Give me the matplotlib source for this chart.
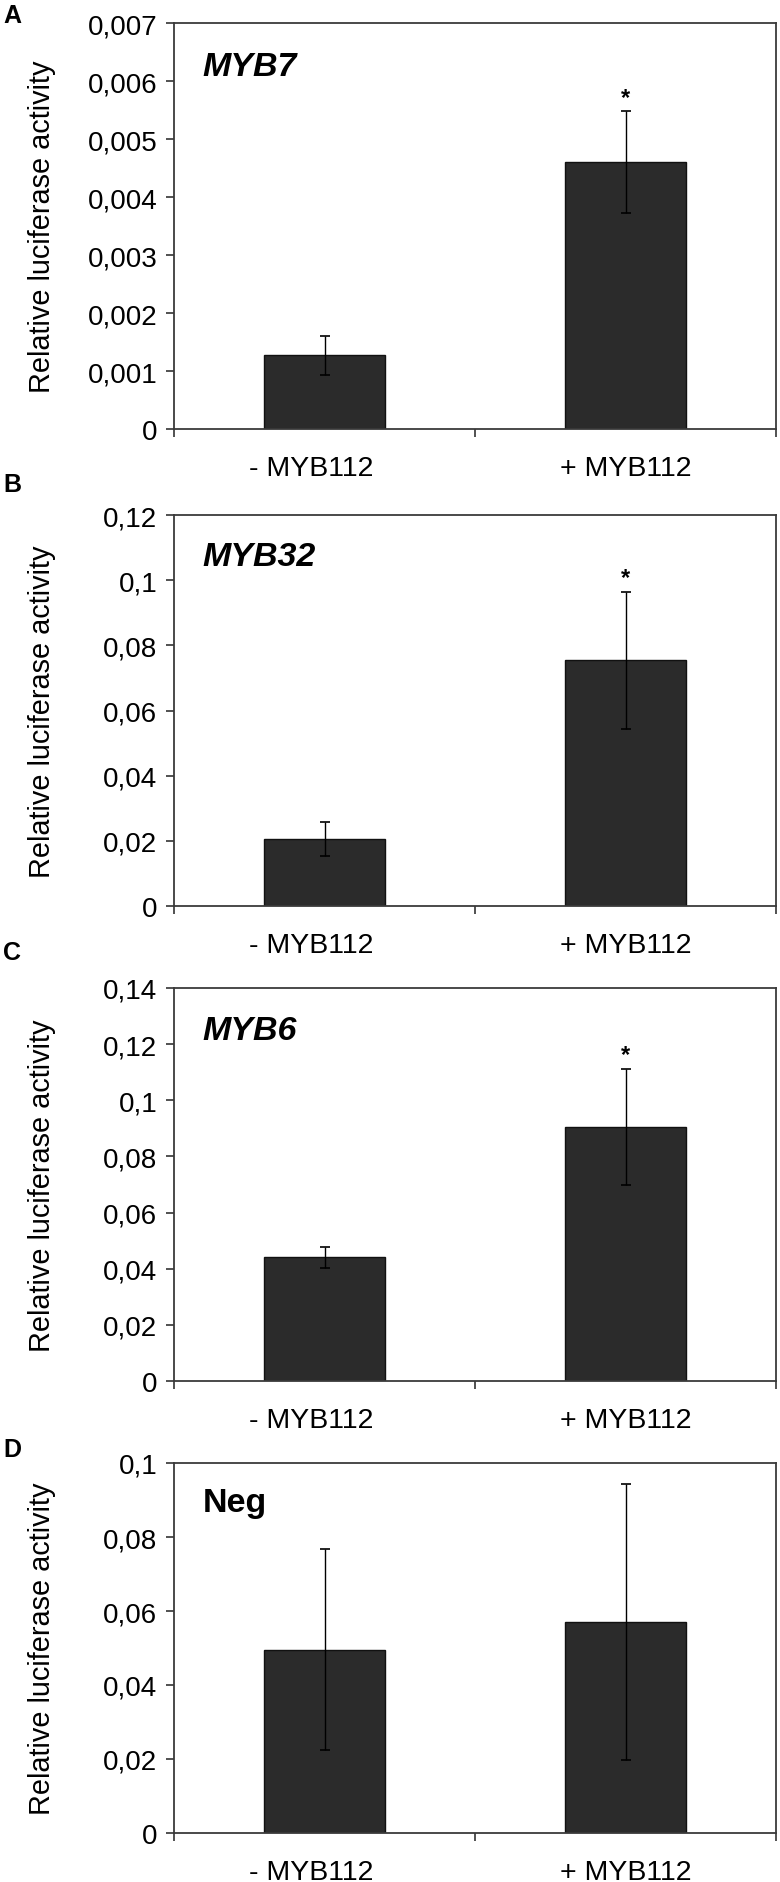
import numpy as np
import matplotlib
matplotlib.use('Agg')
import matplotlib.pyplot as plt
import matplotlib.transforms as mtransforms
from matplotlib.ticker import FuncFormatter

plt.rcParams['font.family'] = ['Liberation Sans', 'DejaVu Sans']

# data
groups = ['- MYB112', '+ MYB112']
panel_letters = ['A', 'B', 'C', 'D']
genes = ['MYB7', 'MYB32', 'MYB6', 'Neg']
means_a = [0.00127, 0.0046]
errs_a = [0.00034, 0.00088]
means_b = [0.0205, 0.0754]
errs_b = [0.0052, 0.021]
means_c = [0.044, 0.0906]
errs_c = [0.0037, 0.0207]
means_d = [0.0495, 0.057]
errs_d = [0.0272, 0.0372]
signif = [[False, True], [False, True], [False, True], [False, False]]
ymax = [0.007, 0.12, 0.14, 0.1]
ystep = [0.001, 0.02, 0.02, 0.02]

means = [means_a, means_b, means_c, means_d]
errs = [errs_a, errs_b, errs_c, errs_d]

W, H = 780, 1883
fig = plt.figure(figsize=(W / 100, H / 100), dpi=100)

# axes boxes in pixels: (top, bottom)
boxes = [(24, 430), (516, 907), (989, 1382), (1464, 1834)]
letter_y = [16, 485, 953, 1450]
left, right = 174, 776

fmt = FuncFormatter(lambda v, p: f"{v:g}".replace('.', ','))

for i in range(4):
    top, bot = boxes[i]
    ax = fig.add_axes([left / W, 1 - bot / H, (right - left) / W, (bot - top) / H])
    x = np.arange(len(groups))
    ax.bar(x, means[i], width=0.4, color='#2b2b2b', edgecolor='#111111', linewidth=1.0, zorder=2)
    ax.errorbar(x, means[i], yerr=errs[i], fmt='none', ecolor='black',
                elinewidth=1.0, capsize=3.5, capthick=1.2, zorder=3)
    for j in range(len(groups)):
        if signif[i][j]:
            ax.annotate('*', (x[j], means[i][j] + errs[i][j]), xytext=(0, 10),
                        textcoords='offset points', ha='center', va='center',
                        fontsize=17, fontweight='bold')
    ax.set_xlim(-0.5, 1.5)
    ax.set_ylim(0, ymax[i])
    ax.set_yticks(np.arange(0, ymax[i] + ystep[i] / 2, ystep[i]))
    ax.yaxis.set_major_formatter(fmt)
    ax.set_xticks([-0.5, 0.5, 1.5])
    ax.set_xticklabels([])
    ax.set_xticks(x, minor=True)
    ax.set_xticklabels(groups, minor=True)
    ax.tick_params(axis='x', which='minor', length=0, pad=19, labelsize=20.5)
    ax.tick_params(axis='x', which='major', length=6, width=1.2, color='#333333', direction='out')
    ax.tick_params(axis='y', length=6, width=1.2, color='#333333', direction='out',
                   labelsize=20, pad=6)
    # first category label sits a little left of its bar in the original
    lab0 = ax.xaxis.get_minor_ticks()[0].label1
    lab0.set_transform(lab0.get_transform() +
                       mtransforms.ScaledTranslation(-13 / 100, 0, fig.dpi_scale_trans))
    for s in ax.spines.values():
        s.set_color('#3a3a3a')
        s.set_linewidth(1.3)
    ax.set_ylabel('Relative luciferase activity', fontsize=20.8)
    ax.yaxis.set_label_coords(-0.196, 0.5)
    style = 'normal' if genes[i] == 'Neg' else 'italic'
    ax.text(0.048, 0.893, genes[i], transform=ax.transAxes, fontsize=24.5,
            fontweight='bold', fontstyle=style, ha='left', va='center')
    fig.text(3 / W, 1 - letter_y[i] / H, panel_letters[i], fontsize=18,
             fontweight='bold', ha='left', va='center')

fig.savefig('out.png', dpi=100)
